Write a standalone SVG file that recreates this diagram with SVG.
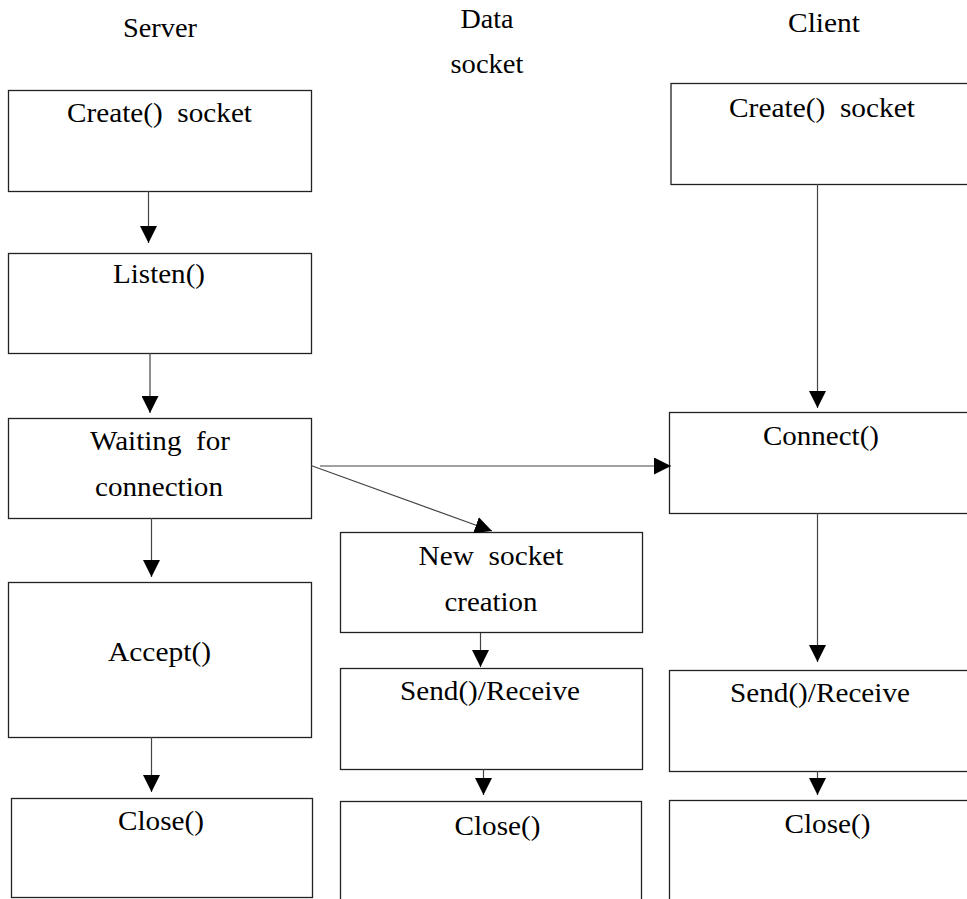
<svg xmlns="http://www.w3.org/2000/svg" width="967" height="899" viewBox="0 0 967 899">
<style>
  .box { fill: #ffffff; stroke: #222; stroke-width: 1.3; }
  .t { font-family: "Liberation Serif", "Times New Roman", serif; font-size: 27px; fill: #000; text-anchor: middle; }
  .c { stroke: #444; stroke-width: 1.2; fill: none; marker-end: url(#ah); }
</style>
<defs>
  <marker id="ah" markerUnits="userSpaceOnUse" markerWidth="17" markerHeight="17" viewBox="0 0 16 16" refX="16" refY="8" orient="auto">
    <path d="M0,0 L16,8 L0,16 z" fill="#000"/>
  </marker>
</defs>
<rect width="967" height="899" fill="#fff"/>

<g id="headers">
  <text class="t" x="160" y="37" textLength="74" lengthAdjust="spacingAndGlyphs">Server</text>
  <text class="t" x="487" y="28" textLength="53" lengthAdjust="spacingAndGlyphs">Data</text>
  <text class="t" x="487" y="73" textLength="73" lengthAdjust="spacingAndGlyphs">socket</text>
  <text class="t" x="824" y="32" textLength="72" lengthAdjust="spacingAndGlyphs">Client</text>
</g>

<g id="server-create">
  <rect class="box" x="8.5" y="90.5" width="303" height="101"/>
  <text class="t" x="159.5" y="122" textLength="185" lengthAdjust="spacingAndGlyphs" xml:space="preserve">Create()  socket</text>
</g>
<g id="server-listen">
  <rect class="box" x="8.5" y="253.5" width="303" height="100"/>
  <text class="t" x="159" y="283" textLength="92" lengthAdjust="spacingAndGlyphs">Listen()</text>
</g>
<g id="server-waiting">
  <rect class="box" x="8.5" y="418.5" width="303" height="100"/>
  <text class="t" x="160" y="450" textLength="140" lengthAdjust="spacingAndGlyphs" xml:space="preserve">Waiting  for</text>
  <text class="t" x="159" y="496" textLength="128" lengthAdjust="spacingAndGlyphs">connection</text>
</g>
<g id="server-accept">
  <rect class="box" x="8.5" y="582.5" width="303" height="155"/>
  <text class="t" x="159.5" y="661" textLength="103" lengthAdjust="spacingAndGlyphs">Accept()</text>
</g>
<g id="server-close">
  <rect class="box" x="11.5" y="798.5" width="301" height="99"/>
  <text class="t" x="161" y="830" textLength="86" lengthAdjust="spacingAndGlyphs">Close()</text>
</g>

<g id="data-new">
  <rect class="box" x="340.5" y="532.5" width="302" height="100"/>
  <text class="t" x="491" y="565" textLength="145" lengthAdjust="spacingAndGlyphs" xml:space="preserve">New  socket</text>
  <text class="t" x="491" y="611" textLength="93" lengthAdjust="spacingAndGlyphs">creation</text>
</g>
<g id="data-send">
  <rect class="box" x="340.5" y="668.5" width="302" height="101"/>
  <text class="t" x="490" y="700" textLength="180" lengthAdjust="spacingAndGlyphs">Send()/Receive</text>
</g>
<g id="data-close">
  <rect class="box" x="340.5" y="801.5" width="301" height="120"/>
  <text class="t" x="497.5" y="835" textLength="86" lengthAdjust="spacingAndGlyphs">Close()</text>
</g>

<g id="client-create">
  <rect class="box" x="671" y="83.5" width="320" height="101"/>
  <text class="t" x="822" y="117" textLength="186" lengthAdjust="spacingAndGlyphs" xml:space="preserve">Create()  socket</text>
</g>
<g id="client-connect">
  <rect class="box" x="669.5" y="412.5" width="320" height="101"/>
  <text class="t" x="821" y="445" textLength="116" lengthAdjust="spacingAndGlyphs">Connect()</text>
</g>
<g id="client-send">
  <rect class="box" x="669.5" y="670.5" width="320" height="101"/>
  <text class="t" x="820" y="702" textLength="180" lengthAdjust="spacingAndGlyphs">Send()/Receive</text>
</g>
<g id="client-close">
  <rect class="box" x="669.5" y="800.5" width="320" height="120"/>
  <text class="t" x="827.5" y="833" textLength="86" lengthAdjust="spacingAndGlyphs">Close()</text>
</g>

<g id="connectors">
  <line class="c" x1="148.5" y1="191" x2="148.5" y2="243"/>
  <line class="c" x1="150" y1="353" x2="150" y2="413"/>
  <line class="c" x1="151.5" y1="518" x2="151.5" y2="577"/>
  <line class="c" x1="151.5" y1="737" x2="151.5" y2="792"/>
  <line class="c" x1="320" y1="466" x2="671" y2="466"/>
  <line class="c" x1="311" y1="465.5" x2="492" y2="531"/>
  <line class="c" x1="480.5" y1="633" x2="480.5" y2="667"/>
  <line class="c" x1="483.5" y1="769" x2="483.5" y2="795"/>
  <line class="c" x1="817.5" y1="184" x2="817.5" y2="408"/>
  <line class="c" x1="817.5" y1="513" x2="817.5" y2="662"/>
  <line class="c" x1="817.5" y1="771" x2="817.5" y2="795"/>
</g>
</svg>
